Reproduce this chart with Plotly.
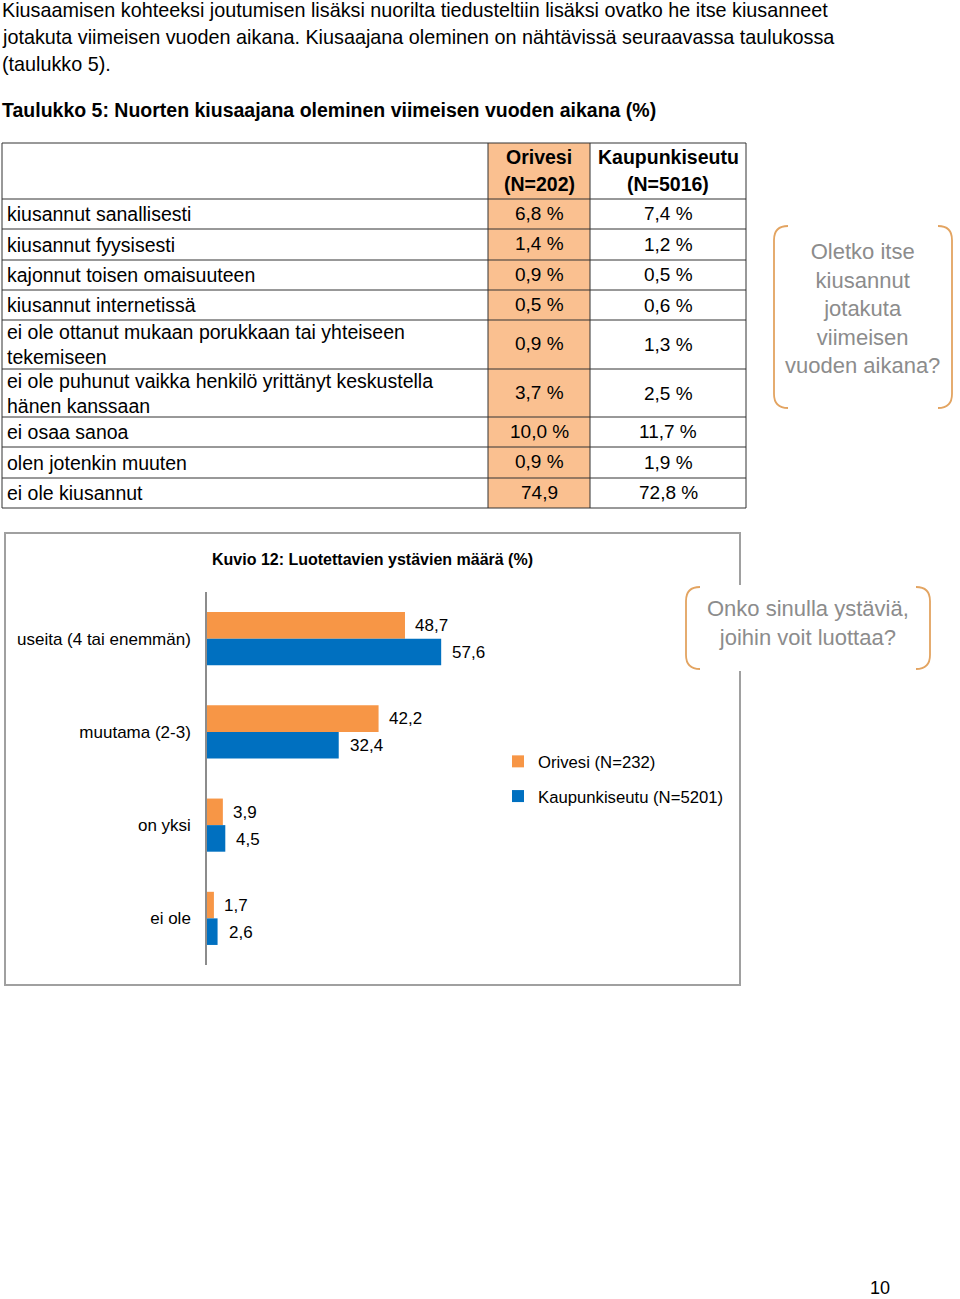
import plotly.graph_objects as go

W, H = 960, 1299
def X(px): return px / W
def Y(py): return 1 - py / H

FONT = "Liberation Sans, Arial, sans-serif"
ORANGE = "#F79646"
BLUE = "#0070C0"
TABLE_FILL = "#FAC090"
CALLOUT_GRAY = "#8C8C8C"
BRACKET = "#E3A461"

# ---------------- data ----------------
intro_lines = [
    "Kiusaamisen kohteeksi joutumisen lisäksi nuorilta tiedusteltiin lisäksi ovatko he itse kiusanneet",
    "jotakuta viimeisen vuoden aikana. Kiusaajana oleminen on nähtävissä seuraavassa taulukossa",
    "(taulukko 5).",
]
table_title = "Taulukko 5: Nuorten kiusaajana oleminen viimeisen vuoden aikana (%)"
table_header_orivesi = ["Orivesi", "(N=202)"]
table_header_kaupunki = ["Kaupunkiseutu", "(N=5016)"]
table_rows = [
    "kiusannut sanallisesti",
    "kiusannut fyysisesti",
    "kajonnut toisen omaisuuteen",
    "kiusannut internetissä",
    "ei ole ottanut mukaan porukkaan tai yhteiseen<br>tekemiseen",
    "ei ole puhunut vaikka henkilö yrittänyt keskustella<br>hänen kanssaan",
    "ei osaa sanoa",
    "olen jotenkin muuten",
    "ei ole kiusannut",
]
table_orivesi = ["6,8 %", "1,4 %", "0,9 %", "0,5 %", "0,9 %", "3,7 %", "10,0 %", "0,9 %", "74,9"]
table_kaupunki = ["7,4 %", "1,2 %", "0,5 %", "0,6 %", "1,3 %", "2,5 %", "11,7 %", "1,9 %", "72,8 %"]
callout1 = "Oletko itse<br>kiusannut<br>jotakuta<br>viimeisen<br>vuoden aikana?"

chart_title = "Kuvio 12: Luotettavien ystävien määrä (%)"
categories = ["useita (4 tai enemmän)", "muutama (2-3)", "on yksi", "ei ole"]
orivesi_vals = [48.7, 42.2, 3.9, 1.7]
kaupunki_vals = [57.6, 32.4, 4.5, 2.6]
series_names = ["Orivesi (N=232)", "Kaupunkiseutu (N=5201)"]
callout2 = "Onko sinulla ystäviä,<br>joihin voit luottaa?"
page_number = "10"

# ---------------- layout constants (pixels) ----------------
tbl_top, tbl_left, tbl_right = 143, 2, 746
header_bottom = 199
row_tops = [199, 229, 260, 290, 320, 369, 417, 447, 478]
row_bots = [229, 260, 290, 320, 369, 417, 447, 478, 508]
col1, col2 = 488, 590
LINE = "#333333"

fig = go.Figure()

# bars
fig.add_trace(go.Bar(y=categories, x=orivesi_vals, orientation="h", name=series_names[0],
                     marker=dict(color=ORANGE, line=dict(width=0)), legendgroup="a"))
fig.add_trace(go.Bar(y=categories, x=kaupunki_vals, orientation="h", name=series_names[1],
                     marker=dict(color=BLUE, line=dict(width=0)), legendgroup="b"))

ann = []
def text(px, py, t, size=19, color="black", anchor="left", bold=False, family=FONT):
    if bold:
        t = "<b>" + t + "</b>"
    ann.append(dict(x=X(px), y=Y(py), xref="paper", yref="paper", text=t, showarrow=False,
                    xanchor=anchor, yanchor="middle", align=anchor if anchor != "middle" else "center",
                    font=dict(family=family, size=size, color=color)))

# intro paragraph
for i, line in enumerate(intro_lines):
    text(0, 10 + 27 * i, line, size=19.8)
text(0, 110, table_title, size=19.5, bold=True)

# table
shapes = []
shapes.append(dict(type="rect", xref="paper", yref="paper", x0=X(col1), x1=X(col2),
                   y0=Y(tbl_top), y1=Y(row_bots[-1]), fillcolor=TABLE_FILL, line=dict(width=0), layer="below"))
for yb in [tbl_top, header_bottom] + row_bots:
    shapes.append(dict(type="line", xref="paper", yref="paper", x0=X(tbl_left), x1=X(tbl_right),
                       y0=Y(yb), y1=Y(yb), line=dict(color=LINE, width=1)))
for xb in [tbl_left, col1, col2, tbl_right]:
    shapes.append(dict(type="line", xref="paper", yref="paper", x0=X(xb), x1=X(xb),
                       y0=Y(tbl_top), y1=Y(row_bots[-1]), line=dict(color=LINE, width=1)))

text(539, 157, table_header_orivesi[0], size=19.5, anchor="center", bold=True)
text(539, 184, table_header_orivesi[1], size=19.5, anchor="center", bold=True)
text(668, 157, table_header_kaupunki[0], size=19.5, anchor="center", bold=True)
text(668, 184, table_header_kaupunki[1], size=19.5, anchor="center", bold=True)

for lab, ov, kv, t0, t1 in zip(table_rows, table_orivesi, table_kaupunki, row_tops, row_bots):
    cy = (t0 + t1) / 2
    text(5, cy, lab, size=19.5)
    text(539, cy - 1, ov, size=19, anchor="center")
    text(668, cy, kv, size=19, anchor="center")

def bracket_pair(x_left, x_right, y_top, y_bot, curl=14):
    for xe, sgn in ((x_left, 1), (x_right, -1)):
        xi = xe + sgn * curl
        path = (f"M {X(xi)},{Y(y_top)} Q {X(xe)},{Y(y_top)} {X(xe)},{Y(y_top + curl)} "
                f"L {X(xe)},{Y(y_bot - curl)} Q {X(xe)},{Y(y_bot)} {X(xi)},{Y(y_bot)}")
        shapes.append(dict(type="path", xref="paper", yref="paper", path=path,
                           line=dict(color=BRACKET, width=1.8)))

# callout 1
bracket_pair(774, 952, 226, 408)
ann.append(dict(x=X(862), y=Y(309), xref="paper", yref="paper", text=callout1, showarrow=False,
                xanchor="center", yanchor="middle", align="center",
                font=dict(family=FONT, size=22, color=CALLOUT_GRAY)))

# chart frame
shapes.append(dict(type="rect", xref="paper", yref="paper", x0=X(5), x1=X(740), y0=Y(533), y1=Y(985),
                   line=dict(color="#A0A0A0", width=2), fillcolor="rgba(0,0,0,0)"))
text(372, 559, chart_title, size=16, anchor="center", bold=True)

# callout 2 (white box covers the frame edge)
shapes.append(dict(type="rect", xref="paper", yref="paper", x0=X(685), x1=X(931), y0=Y(671), y1=Y(585),
                   fillcolor="white", line=dict(width=0)))
bracket_pair(686, 930, 587, 669)
ann.append(dict(x=X(808), y=Y(623), xref="paper", yref="paper", text=callout2, showarrow=False,
                xanchor="center", yanchor="middle", align="center",
                font=dict(family=FONT, size=22, color=CALLOUT_GRAY)))

# bar value labels
def fmt(v):
    return f"{v:.1f}".replace(".", ",")
for cat, v in zip(categories, orivesi_vals):
    ann.append(dict(x=v, y=cat, xref="x", yref="y", text=fmt(v), showarrow=False, xanchor="left",
                    yanchor="middle", xshift=8, yshift=13, font=dict(family=FONT, size=17, color="black")))
for cat, v in zip(categories, kaupunki_vals):
    ann.append(dict(x=v, y=cat, xref="x", yref="y", text=fmt(v), showarrow=False, xanchor="left",
                    yanchor="middle", xshift=9, yshift=-14, font=dict(family=FONT, size=17, color="black")))

# page number
text(880, 1288, page_number, size=18, anchor="center")

fig.update_layout(
    width=W, height=H, margin=dict(l=0, r=0, t=0, b=0),
    paper_bgcolor="white", plot_bgcolor="rgba(0,0,0,0)",
    barmode="group", bargap=0.43, bargroupgap=0,
    shapes=shapes, annotations=ann,
    xaxis=dict(domain=[X(207), X(740)], range=[0, 131.1], visible=False, fixedrange=True),
    yaxis=dict(domain=[Y(965), Y(592)], autorange=False, range=[3.5, -0.5], showline=True,
               linecolor="#8C8C8C", linewidth=1.5, showgrid=False, zeroline=False, ticks="",
               ticklabelstandoff=11, tickfont=dict(family=FONT, size=17, color="black"),
               fixedrange=True),
    showlegend=True,
    legend=dict(x=X(498), y=Y(744), xanchor="left", yanchor="top", traceorder="grouped",
                tracegroupgap=10, font=dict(family=FONT, size=16.7, color="black"),
                bgcolor="rgba(0,0,0,0)", itemwidth=30),
)

fig.write_html("out.html", config={"displayModeBar": False},
               post_script="document.body.style.margin='0';document.body.style.overflow='hidden';")
